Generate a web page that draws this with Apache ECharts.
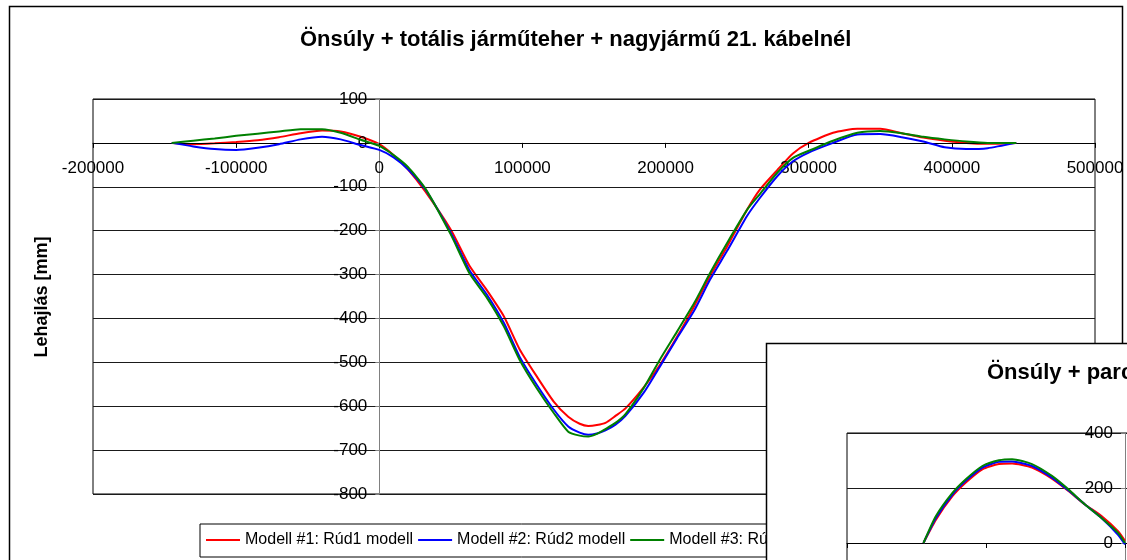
<!DOCTYPE html>
<html>
<head>
<meta charset="utf-8">
<script src="https://cdn.jsdelivr.net/npm/echarts@6/dist/echarts.min.js"></script>
<style>html,body{margin:0;padding:0;background:#fff}#c{width:1127px;height:560px}</style>
</head>
<body>
<div id="c"></div>
<script>
// ---------- data ----------
const mainTitle = 'Önsúly + totális járműteher + nagyjármű 21. kábelnél';
const insetTitle = 'Önsúly + parciális járműteher + nagyjármű 21. kábelnél';
const yAxisTitle = 'Lehajlás [mm]';
const seriesNames = ['Modell #1: Rúd1 modell', 'Modell #2: Rúd2 modell', 'Modell #3: Rúd3 modell'];
const seriesColors = ['#ff0000', '#0000ff', '#008000'];

const xTickValues = [-200000, -100000, 0, 100000, 200000, 300000, 400000, 500000];
const yTickValues = [-800, -700, -600, -500, -400, -300, -200, -100, 0, 100];
const insetYTickValues = [-1000, -800, -600, -400, -200, 0, 200, 400];

const xValues = [-145000, -130000, -115000, -100000, -85000, -70000, -55000, -40000, -27000, -13000,
  0, 10000, 20000, 32000, 50000, 63000, 75000, 87000, 98000, 110000,
  122000, 132000, 140000, 146000, 152000, 158000, 165000, 172000, 185000, 196000,
  208000, 220000, 231000, 243000, 257000, 266000, 278000, 289000, 300000, 317000,
  334000, 350000, 365000, 380000, 395000, 410000, 425000, 445000];
const rud1 = [0, -3, -1, 2, 6, 13, 22, 28, 26, 14,
  -3, -28, -60, -110, -198, -280, -335, -395, -470, -532,
  -590, -624, -640, -645, -643, -638, -622, -605, -556, -506,
  -442, -372, -304, -236, -152, -106, -62, -24, 0, 23,
  32, 32, 22, 12, 5, 0, -2, 0];
const rud2 = [0, -8, -14, -16, -11, -3, 8, 14, 8, -5,
  -16, -33, -60, -105, -205, -290, -345, -410, -487, -551,
  -608, -646, -660, -665, -662, -655, -642, -622, -568, -510,
  -445, -382, -312, -246, -166, -125, -76, -42, -22, 0,
  19, 20, 13, 3, -10, -14, -12, 0];
const rud3 = [0, 5, 10, 16, 21, 26, 31, 31, 23, 7,
  -7, -28, -55, -103, -209, -297, -352, -418, -494, -559,
  -616, -658, -667, -669, -663, -652, -638, -618, -557, -494,
  -430, -365, -297, -228, -152, -116, -68, -34, -18, 5,
  23, 27, 22, 14, 8, 3, 0, 0];

const insetX = [-145000, -136000, -124000, -114500, -102600, -90700, -81200, -66900, -52600, -40700, -28800, -16900, -5000, 0];
const insetRud1 = [0, 85, 171, 220, 268, 287, 289, 274, 234, 189, 140, 98, 43, 8];
const insetRud2 = [0, 91, 177, 226, 274, 295, 296, 280, 238, 191, 140, 91, 30, -5];
const insetRud3 = [0, 98, 183, 232, 280, 301, 305, 287, 244, 195, 140, 91, 37, 0];

// ---------- chart ----------
const FONT = '"Liberation Sans", Arial, sans-serif';
const pairs = (xs, ys) => xs.map((x, i) => [x, ys[i]]);
const mainData = [rud1, rud2, rud3];
const insetData = [insetRud1, insetRud2, insetRud3];

const MAIN_GRID = { left: 93, top: 99, width: 1002, height: 395 };
const INSET_GRID = { left: 847, top: 433, width: 973, height: 385 };

// axes crossing at zero: shift each axis to the other's zero via offset
function makeAxes(gridIndex, yTicks, g, zl) {
  const xMin = xTickValues[0], xMax = xTickValues[xTickValues.length - 1];
  const yMin = yTicks[0], yMax = yTicks[yTicks.length - 1];
  const xOff = -((0 - yMin) / (yMax - yMin)) * g.height;
  const yOff = -((0 - xMin) / (xMax - xMin)) * g.width;
  const x = {
    type: 'value', gridIndex: gridIndex, position: 'bottom', offset: xOff,
    min: xMin, max: xMax, interval: xTickValues[1] - xTickValues[0],
    zlevel: zl, z: 3,
    axisLine: { show: true, onZero: false, lineStyle: { color: '#000', width: 1 } },
    axisTick: { show: true, inside: false, length: 5, lineStyle: { color: '#000' } },
    axisLabel: { show: true, color: '#000', fontSize: 17, fontFamily: FONT, margin: 17,
      showMinLabel: true, showMaxLabel: true, formatter: v => String(v) },
    splitLine: { show: false }
  };
  const y = {
    type: 'value', gridIndex: gridIndex, position: 'left', offset: yOff,
    min: yMin, max: yMax, interval: yTicks[1] - yTicks[0],
    zlevel: zl, z: 3,
    axisLine: { show: true, onZero: false, lineStyle: { color: '#808080', width: 1 } },
    axisTick: { show: true, length: 4, lineStyle: { color: '#808080' } },
    axisLabel: { show: true, color: '#000', fontSize: 17, fontFamily: FONT, margin: 12,
      showMinLabel: true, showMaxLabel: true, formatter: v => String(v) },
    splitLine: { show: true, lineStyle: { color: '#1a1a1a', width: 1 } }
  };
  return [x, y];
}

const [mx, my] = makeAxes(0, yTickValues, MAIN_GRID, 0);
const [ix, iy] = makeAxes(1, insetYTickValues, INSET_GRID, 1);

const series = [];
seriesNames.forEach((name, i) => {
  series.push({
    type: 'line', name: name, xAxisIndex: 0, yAxisIndex: 0,
    data: pairs(xValues, mainData[i]), showSymbol: false, smooth: 0.2,
    lineStyle: { color: seriesColors[i], width: 2 }, itemStyle: { color: seriesColors[i] },
    zlevel: 0, z: 2 + i, animation: false
  });
});
seriesNames.forEach((name, i) => {
  series.push({
    type: 'line', name: name, xAxisIndex: 1, yAxisIndex: 1,
    data: pairs(insetX, insetData[i]), showSymbol: false, smooth: 0.2,
    lineStyle: { color: seriesColors[i], width: 2 }, itemStyle: { color: seriesColors[i] },
    zlevel: 1, z: 5 + i, animation: false
  });
});

const option = {
  animation: false,
  backgroundColor: '#fff',
  title: [
    { text: mainTitle, left: 300, top: 29, padding: 0,
      textStyle: { fontSize: 22, fontWeight: 'bold', color: '#000', fontFamily: FONT } },
    { text: insetTitle, left: 987, top: 362, padding: 0, zlevel: 1, z: 10,
      textStyle: { fontSize: 22, fontWeight: 'bold', color: '#000', fontFamily: FONT } }
  ],
  legend: {
    data: seriesNames, left: 200, top: 524, orient: 'horizontal',
    icon: 'rect', itemWidth: 34, itemHeight: 2, itemGap: 5,
    padding: [8, 6, 9, 6], borderColor: '#000', borderWidth: 1,
    textStyle: { fontSize: 16, color: '#000', fontFamily: FONT },
    zlevel: 0, z: 4
  },
  grid: [
    Object.assign({ show: true, borderColor: '#000', borderWidth: 1, backgroundColor: 'transparent',
      containLabel: false, outerBoundsMode: 'none' }, MAIN_GRID),
    Object.assign({ show: true, borderColor: '#000', borderWidth: 1, backgroundColor: '#fff',
      containLabel: false, outerBoundsMode: 'none', zlevel: 1, z: 1 }, INSET_GRID)
  ],
  xAxis: [mx, ix],
  yAxis: [my, iy],
  series: series,
  graphic: {
    elements: [
      { type: 'rect', zlevel: 0, z: 0, silent: true,
        shape: { x: 9.5, y: 6.5, width: 1113, height: 600 },
        style: { fill: null, stroke: '#000', lineWidth: 1.5 } },
      { type: 'text', zlevel: 0, z: 5, silent: true,
        x: 42, y: 297, rotation: Math.PI / 2,
        style: { text: yAxisTitle, fill: '#000', font: 'bold 18px ' + FONT,
          textAlign: 'center', textVerticalAlign: 'middle' } },
      { type: 'rect', zlevel: 1, z: 0, silent: true,
        shape: { x: 766.5, y: 343.5, width: 700, height: 400 },
        style: { fill: '#fff', stroke: '#000', lineWidth: 1.5 } }
    ]
  }
};

const chart = echarts.init(document.getElementById('c'), null, { renderer: 'canvas' });
chart.setOption(option);
</script>
</body>
</html>
